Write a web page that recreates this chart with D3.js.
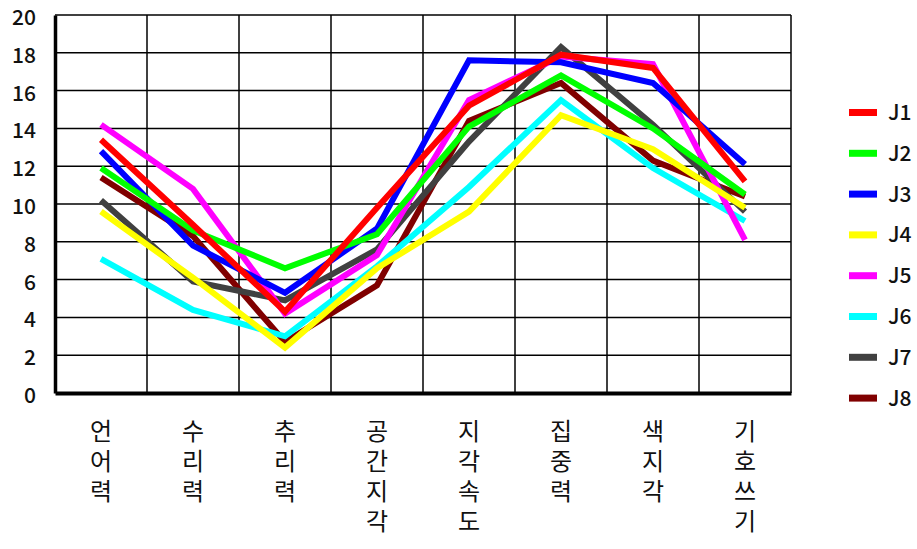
<!DOCTYPE html>
<html>
<head>
<meta charset="utf-8">
<script src="https://cdn.jsdelivr.net/npm/d3@7"></script>
<style>
  body { margin: 0; background: #fff; }
  svg { display: block; font-family: "Noto Sans CJK KR", "Noto Sans", sans-serif; }
</style>
</head>
<body>
<main></main>
<script>
const categories = ["언어력", "수리력", "추리력", "공간지각", "지각속도", "집중력", "색지각", "기호쓰기"];
const seriesNames = ["J1", "J2", "J3", "J4", "J5", "J6", "J7", "J8"];
const colors = ["#ff0000", "#00ff00", "#0000ff", "#ffff00", "#ff00ff", "#00ffff", "#404040", "#800000"];
const yTicks = [0, 2, 4, 6, 8, 10, 12, 14, 16, 18, 20];

const j1 = [13.4, 8.9, 4.3, 9.8, 15.2, 17.9, 17.2, 11.2];
const j2 = [11.9, 8.6, 6.6, 8.4, 14.1, 16.8, 14.0, 10.5];
const j3 = [12.8, 7.8, 5.3, 8.7, 17.6, 17.5, 16.4, 12.1];
const j4 = [9.6, 6.1, 2.4, 6.6, 9.6, 14.7, 12.9, 9.8];
const j5 = [14.2, 10.8, 4.2, 7.3, 15.5, 17.8, 17.4, 8.1];
const j6 = [7.1, 4.4, 3.0, 6.7, 10.9, 15.5, 11.9, 9.1];
const j7 = [10.2, 5.9, 4.9, 7.6, 13.3, 18.3, 14.2, 9.6];
const j8 = [11.4, 8.3, 2.7, 5.7, 14.4, 16.4, 12.3, 10.4];
const seriesValues = [j1, j2, j3, j4, j5, j6, j7, j8];

const width = 917;
const height = 549;
const margin = { top: 15, right: 126, bottom: 156, left: 55 };

const svg = d3.select("main").append("svg").attr("width", width).attr("height", height);

const xScale = d3
  .scaleBand()
  .domain(categories)
  .range([margin.left, width - margin.right])
  .padding(0);

const yScale = d3
  .scaleLinear()
  .domain([0, 20])
  .range([height - margin.bottom, margin.top]);

// grid
const grid = svg.append("g").attr("class", "grid");
grid
  .selectAll("line.h")
  .data(yTicks.filter((t) => t > 0))
  .enter()
  .append("line")
  .attr("x1", margin.left)
  .attr("x2", width - margin.right)
  .attr("y1", (t) => yScale(t))
  .attr("y2", (t) => yScale(t))
  .attr("stroke", "#000")
  .attr("stroke-width", 1.5);

const bounds = categories.slice(1).map((c) => xScale(c)).concat([xScale.range()[1]]);
grid
  .selectAll("line.v")
  .data(bounds)
  .enter()
  .append("line")
  .attr("x1", (d) => d)
  .attr("x2", (d) => d)
  .attr("y1", margin.top)
  .attr("y2", height - margin.bottom)
  .attr("stroke", "#000")
  .attr("stroke-width", 1.5);

// y axis
const yAxis = d3.axisLeft(yScale).tickValues(yTicks).tickSize(0).tickPadding(19);
const yG = svg
  .append("g")
  .attr("id", "y-axis")
  .attr("transform", `translate(${margin.left}, 0)`)
  .call(yAxis);
yG.select(".domain").attr("stroke", "#000").attr("stroke-width", 3.5);
yG.selectAll("text")
  .attr("dy", "0.45em")
  .style("font-family", "'Noto Sans CJK KR', sans-serif")
  .style("font-size", "21px")
  .style("font-weight", "500")
  .attr("fill", "#111");

// x axis
const xAxis = d3.axisBottom(xScale).tickSize(0).tickFormat("");
const xG = svg
  .append("g")
  .attr("id", "x-axis")
  .attr("transform", `translate(0, ${height - margin.bottom})`)
  .call(xAxis);
xG.select(".domain").attr("stroke", "#000").attr("stroke-width", 4);

// category labels, written top to bottom
svg
  .append("g")
  .attr("class", "cat-labels")
  .selectAll("text")
  .data(categories)
  .enter()
  .append("text")
  .attr("x", (c) => xScale(c) + xScale.bandwidth() / 2)
  .attr("y", 419)
  .style("writing-mode", "vertical-rl")
  .style("text-orientation", "upright")
  .style("letter-spacing", "6px")
  .style("font-size", "24px")
  .attr("fill", "#111")
  .text((c) => c);

// lines
const line = d3
  .line()
  .x((d, i) => xScale(categories[i]) + xScale.bandwidth() / 2)
  .y((d) => yScale(d));

const order = d3.range(seriesValues.length).reverse();
svg
  .append("g")
  .attr("class", "lines")
  .selectAll("path")
  .data(order)
  .enter()
  .append("path")
  .attr("d", (k) => line(seriesValues[k]))
  .attr("fill", "none")
  .attr("stroke", (k) => colors[k])
  .attr("stroke-width", 6)
  .attr("stroke-linejoin", "miter");

// legend
const legend = svg.append("g").attr("id", "legend");
const items = legend
  .selectAll("g")
  .data(seriesNames)
  .enter()
  .append("g")
  .attr("transform", (d, i) => `translate(849, ${112.5 + i * 40.8})`);
items
  .append("line")
  .attr("x1", 0)
  .attr("x2", 28)
  .attr("stroke", (d, i) => colors[i])
  .attr("stroke-width", 7);
items
  .append("text")
  .attr("x", 39)
  .attr("dy", "0.36em")
  .text((d) => d)
  .style("font-size", "21px")
  .style("font-weight", "500")
  .attr("fill", "#111");
</script>
</body>
</html>
